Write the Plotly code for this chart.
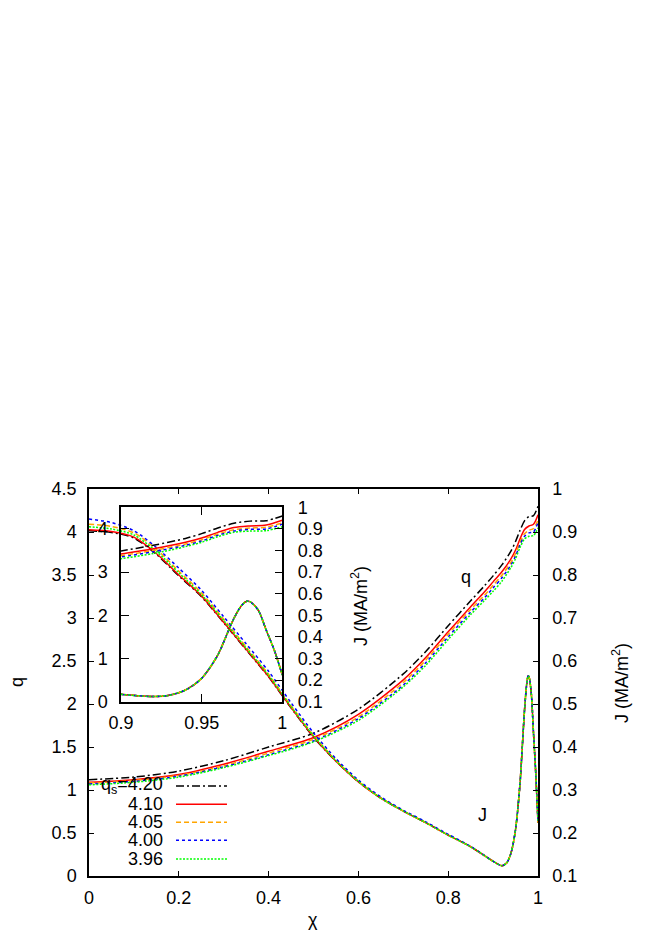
import plotly.graph_objects as go

# safety factor profiles q(chi) for the five runs
q_chi = [0, 0.1, 0.2, 0.3, 0.4, 0.5, 0.6, 0.7, 0.75, 0.8, 0.85, 0.88, 0.9,
         0.92, 0.94, 0.95, 0.96, 0.97, 0.98, 0.99, 1.0]
q_420 = [1.12, 1.15, 1.22, 1.34, 1.50, 1.66, 1.94, 2.35, 2.61, 2.91, 3.20, 3.37, 3.49,
         3.62, 3.78, 3.89, 4.02, 4.13, 4.18, 4.19, 4.30]
q_410 = [1.09, 1.12, 1.18, 1.30, 1.45, 1.61, 1.88, 2.28, 2.54, 2.84, 3.13, 3.30, 3.42,
         3.54, 3.69, 3.79, 3.92, 4.03, 4.07, 4.09, 4.20]
q_405 = [1.08, 1.11, 1.17, 1.28, 1.43, 1.59, 1.85, 2.25, 2.51, 2.81, 3.10, 3.26, 3.38,
         3.50, 3.65, 3.75, 3.88, 3.98, 4.02, 4.04, 4.14]
q_400 = [1.07, 1.10, 1.16, 1.27, 1.41, 1.57, 1.83, 2.22, 2.48, 2.78, 3.07, 3.23, 3.35,
         3.47, 3.62, 3.72, 3.85, 3.95, 3.99, 4.00, 4.11]
q_396 = [1.06, 1.09, 1.15, 1.26, 1.40, 1.56, 1.81, 2.20, 2.45, 2.75, 3.04, 3.20, 3.31,
         3.43, 3.59, 3.69, 3.82, 3.92, 3.95, 3.96, 4.05]

# current density profiles J(chi) in MA/m^2
j_chi = [0, 0.05, 0.1, 0.15, 0.2, 0.25, 0.3, 0.35, 0.4, 0.45, 0.5, 0.55, 0.6, 0.65,
         0.7, 0.75, 0.8, 0.85, 0.9, 0.91, 0.92, 0.93, 0.94, 0.95, 0.96, 0.965, 0.97,
         0.975, 0.978, 0.98, 0.985, 0.99, 0.995, 1.0]
j_tail = [0.281, 0.251, 0.224, 0.195, 0.168, 0.134, 0.128, 0.124, 0.130, 0.154, 0.208,
          0.316, 0.400, 0.486, 0.548, 0.565, 0.563, 0.525, 0.432, 0.339, 0.224]
j_420 = [0.903, 0.899, 0.886, 0.848, 0.798, 0.750, 0.689, 0.626, 0.563, 0.491, 0.423,
         0.367, 0.319] + j_tail
j_410 = [0.905, 0.901, 0.888, 0.850, 0.800, 0.752, 0.690, 0.627, 0.564, 0.492, 0.424,
         0.367, 0.319] + j_tail
j_405 = [0.918, 0.913, 0.898, 0.860, 0.809, 0.759, 0.697, 0.633, 0.569, 0.496, 0.427,
         0.369, 0.320] + j_tail
j_400 = [0.930, 0.922, 0.903, 0.864, 0.816, 0.765, 0.703, 0.640, 0.576, 0.503, 0.433,
         0.373, 0.323, 0.284, 0.253, 0.226, 0.197, 0.169] + j_tail[5:]
j_396 = [0.912, 0.907, 0.893, 0.855, 0.805, 0.755, 0.694, 0.630, 0.567, 0.494, 0.426,
         0.368, 0.320] + j_tail

labels = ["q<sub>s</sub>=4.20", "4.10", "4.05", "4.00", "3.96"]
q_sets = [q_420, q_410, q_405, q_400, q_396]
j_sets = [j_420, j_410, j_405, j_400, j_396]
colors = ["#000000", "#FF0000", "#FFA500", "#0000FF", "#00FF00"]
dashes = ["8px,3px,2px,3px", "solid", "5px,3px", "3px,3px", "2px,1.5px"]

x_ticks = [0, 0.2, 0.4, 0.6, 0.8, 1]
x_text = ["0", "0.2", "0.4", "0.6", "0.8", "1"]
q_ticks = [0, 0.5, 1, 1.5, 2, 2.5, 3, 3.5, 4, 4.5]
q_text = ["0", "0.5", "1", "1.5", "2", "2.5", "3", "3.5", "4", "4.5"]
j_ticks = [0.1, 0.2, 0.3, 0.4, 0.5, 0.6, 0.7, 0.8, 0.9, 1.0]
j_text = ["0.1", "0.2", "0.3", "0.4", "0.5", "0.6", "0.7", "0.8", "0.9", "1"]
ix_ticks = [0.9, 0.95, 1.0]
ix_text = ["0.9", "0.95", "1"]
iq_ticks = [0, 1, 2, 3, 4]
iq_text = ["0", "1", "2", "3", "4"]

FONT = "Liberation Sans, Arial, sans-serif"
FS = 18

fig = go.Figure()

for axes in [("x", "y", "x", "y2"), ("x3", "y3", "x3", "y4")]:
    for qv, jv, c, d in zip(q_sets, j_sets, colors, dashes):
        fig.add_trace(go.Scatter(x=q_chi, y=qv, mode="lines", xaxis=axes[0], yaxis=axes[1],
                                 line=dict(color=c, dash=d, width=1.5, shape="spline",
                                           smoothing=0.8),
                                 showlegend=False))
        fig.add_trace(go.Scatter(x=j_chi, y=jv, mode="lines", xaxis=axes[2], yaxis=axes[3],
                                 line=dict(color=c, dash=d, width=1.5, shape="spline",
                                           smoothing=0.8),
                                 showlegend=False))

axis_common = dict(showline=True, linecolor="black", linewidth=1.5, ticks="inside",
                   tickcolor="black", tickwidth=1, showgrid=False, zeroline=False,
                   tickfont=dict(size=FS, color="black", family=FONT))

x_dom = [0.0713, 0.4305]
y_dom = [0.4504, 0.9527]

# page body has an 8px margin, so the margins are shifted to compensate
fig.update_layout(
    width=654, height=934, autosize=False,
    margin=dict(l=81, r=124, t=481, b=66),
    paper_bgcolor="white", plot_bgcolor="rgba(0,0,0,0)",
    font=dict(family=FONT, size=FS, color="black"),
    xaxis=dict(axis_common, range=[0, 1], tickvals=x_ticks, ticktext=x_text,
               mirror="ticks", ticklen=5, ticklabelstandoff=5),
    yaxis=dict(axis_common, range=[0, 4.5], tickvals=q_ticks, ticktext=q_text, ticklen=5,
               ticklabelstandoff=7),
    yaxis2=dict(axis_common, range=[0.1, 1], tickvals=j_ticks, ticktext=j_text,
                overlaying="y", side="right", anchor="x", ticklen=5, ticklabelstandoff=9),
    xaxis3=dict(axis_common, domain=x_dom, anchor="y3", range=[0.9, 1],
                tickvals=ix_ticks, ticktext=ix_text, mirror="ticks", ticklen=8,
                ticklabelstandoff=4),
    yaxis3=dict(axis_common, domain=y_dom, anchor="x3", range=[0, 4.5],
                tickvals=iq_ticks, ticktext=iq_text, ticklen=8, ticklabelstandoff=8),
    yaxis4=dict(axis_common, range=[0.1, 1], tickvals=j_ticks, ticktext=j_text,
                overlaying="y3", side="right", anchor="x3", ticklen=8,
                ticklabelstandoff=10),
)

texts = [
    dict(x=-0.1604, y=0.5013, text="q", textangle=-90),
    dict(x=0.4989, y=-0.1137, text="χ"),
    dict(x=1.1826, y=0.4987, text="J (MA/m<sup>2</sup>)", textangle=-90),
    dict(x=0.6036, y=0.6977, text="J (MA/m<sup>2</sup>)", textangle=-90),
    dict(x=0.8396, y=0.7726, text="q"),
    dict(x=0.8775, y=0.1576, text="J"),
]
for t in texts:
    fig.add_annotation(xref="paper", yref="paper", showarrow=False,
                       xanchor="center", yanchor="middle",
                       font=dict(size=FS, color="black", family=FONT), **t)

# gnuplot style key: label on the left, line sample on the right
rows = [0.2326, 0.1853, 0.1388, 0.0922, 0.0439]
for lab, c, d, ry in zip(labels, colors, dashes, rows):
    fig.add_annotation(xref="paper", yref="paper", x=0.1693, y=ry, text=lab,
                       xanchor="right", yanchor="middle", showarrow=False,
                       font=dict(size=FS, color="black", family=FONT))
    fig.add_shape(type="line", xref="paper", yref="paper", x0=0.1938, x1=0.3073,
                  y0=ry, y1=ry, line=dict(color=c, dash=d, width=1.5))

fig.write_html("out.html")
